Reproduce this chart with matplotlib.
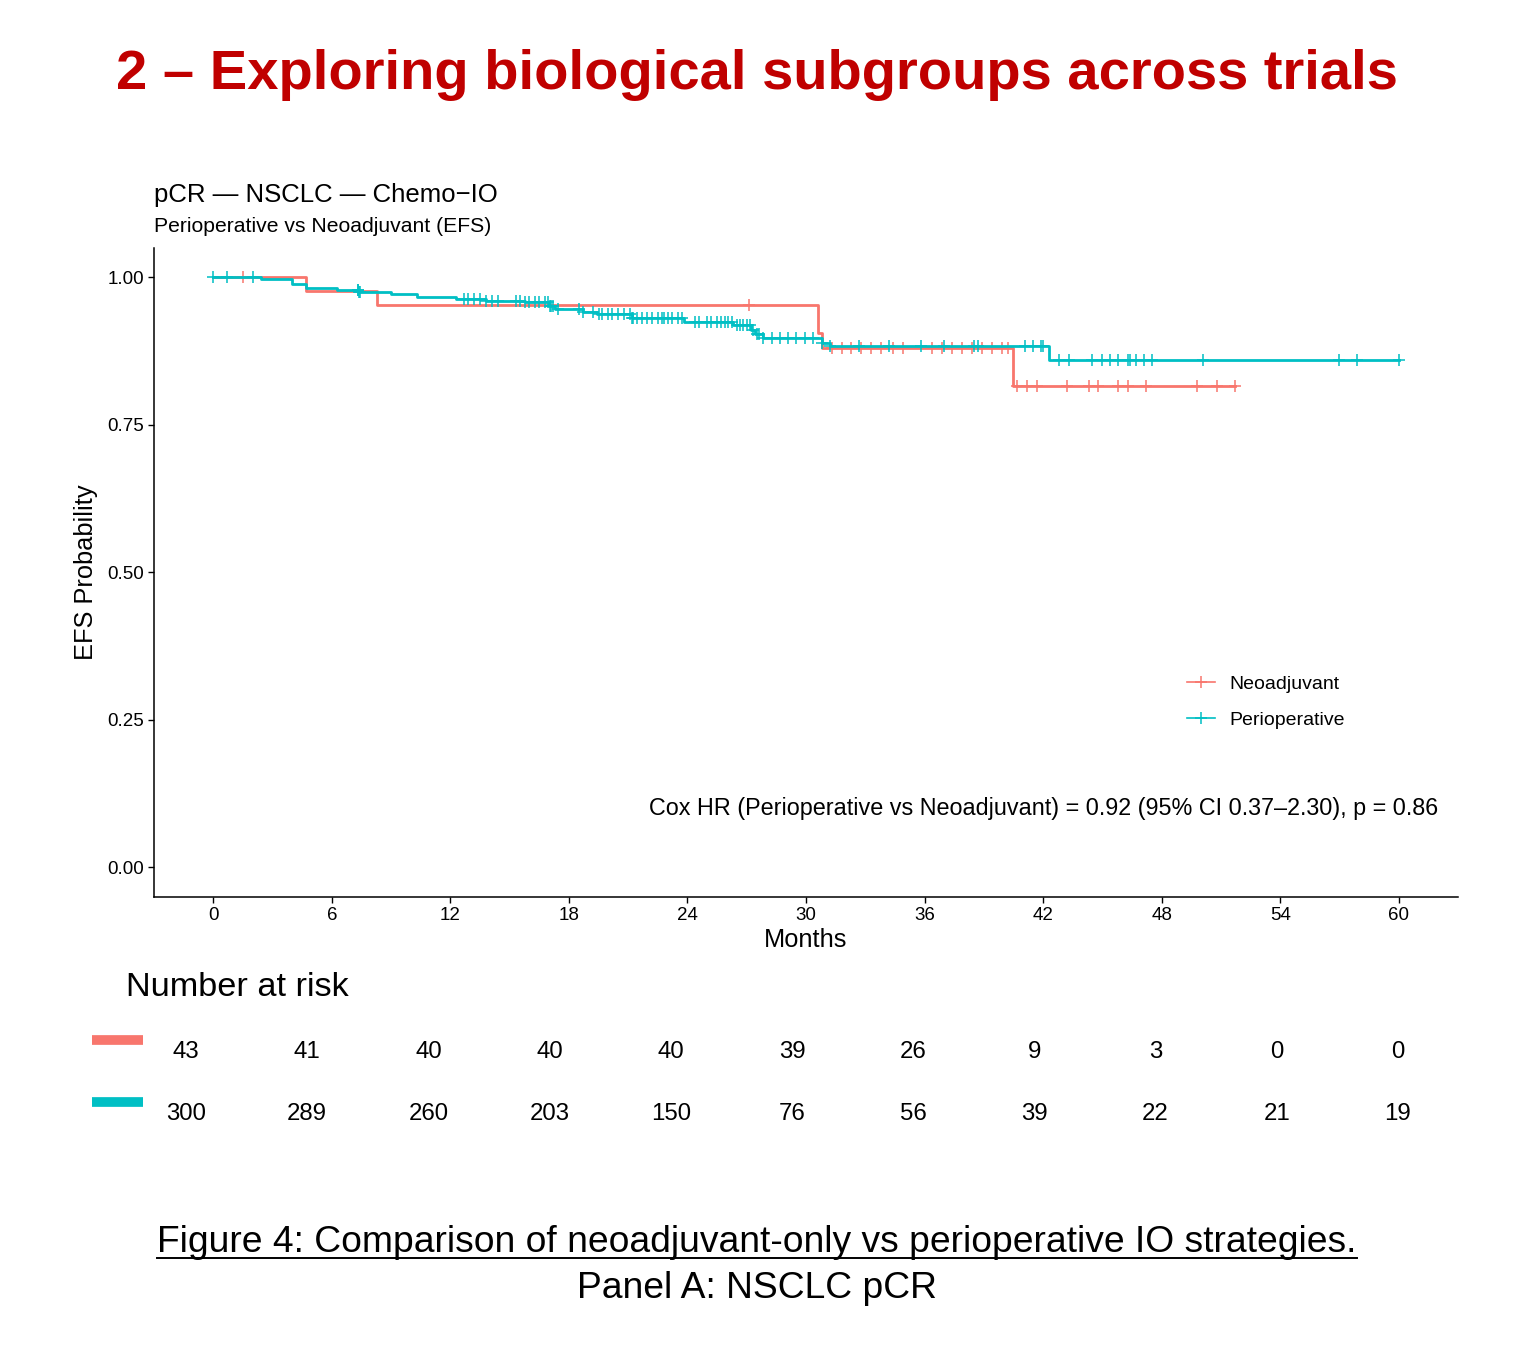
import numpy as np
import matplotlib
matplotlib.use('Agg')
import matplotlib.pyplot as plt
from matplotlib.lines import Line2D

plt.rcParams['font.family'] = ['Liberation Sans', 'DejaVu Sans']

# -----------------------------
# Data
# -----------------------------
RED = '#F8766D'
TEAL = '#00BFC4'

# Neoadjuvant KM curve (step points)
neo_time = [0, 4.7, 8.3, 30.6, 30.8, 40.5, 51.7]
neo_surv = [1.0, 0.977, 0.953, 0.906, 0.879, 0.815, 0.815]
neo_censor = [1.5, 27.1, 31.3, 31.8, 32.3, 32.8, 33.3, 33.8, 34.4, 34.9,
              36.4, 36.9, 37.4, 37.9, 38.4, 38.9, 39.4, 39.9, 40.2,
              40.7, 41.2, 41.7, 43.2, 44.3, 44.8, 45.8, 46.3, 47.2, 49.8, 50.8, 51.7]

# Perioperative KM curve
peri_time = [0, 2.4, 4.0, 4.7, 6.25, 7.4, 9.0, 10.3, 12.3, 13.8, 15.8, 17.0, 17.3,
             18.7, 19.4, 21.2, 23.8, 26.3, 27.2, 27.4, 27.8, 30.8, 31.2, 42.3, 60]
peri_surv = [1.0, 0.997, 0.989, 0.981, 0.978, 0.974, 0.971, 0.967, 0.963, 0.960, 0.957,
             0.951, 0.946, 0.941, 0.937, 0.930, 0.924, 0.918, 0.911, 0.904, 0.896,
             0.889, 0.884, 0.859, 0.859]
peri_censor = [0, 0.7, 2.0, 7.3, 7.35, 7.4, 7.45,
               12.7, 12.9, 13.2, 13.5, 13.8, 14.1, 14.4,
               15.3, 15.5, 15.8, 16.0, 16.3, 16.5, 16.8, 16.95, 17.05, 17.1, 17.2, 17.45,
               18.5, 18.7, 19.2, 19.5, 19.7, 20.0, 20.2, 20.5, 20.8,
               21.1, 21.2, 21.25, 21.45, 21.7, 21.95, 22.2, 22.5, 22.7, 22.8, 23.0, 23.2, 23.5, 23.7,
               24.4, 24.6, 25.0, 25.2, 25.5, 25.7, 25.9, 26.05, 26.25,
               26.5, 26.65, 26.8, 27.0, 27.15, 27.3, 27.5, 27.6, 27.8,
               28.3, 28.7, 29.1, 29.5, 29.95, 30.35, 30.8,
               31.2, 32.7, 34.2, 35.8, 37.0, 38.5, 38.7, 41.1, 41.5, 41.9, 42.0,
               42.8, 43.3, 44.5, 45.0, 45.4, 45.8, 46.3, 46.4, 46.7, 47.1, 47.5, 50.1,
               57.0, 57.9, 60.0]

risk_times = [0, 6, 12, 18, 24, 30, 36, 42, 48, 54, 60]
neo_risk = [43, 41, 40, 40, 40, 39, 26, 9, 3, 0, 0]
peri_risk = [300, 289, 260, 203, 150, 76, 56, 39, 22, 21, 19]

x_ticks = [0, 6, 12, 18, 24, 30, 36, 42, 48, 54, 60]
y_ticks = [0.0, 0.25, 0.5, 0.75, 1.0]


def surv_at(times, surv, t):
    idx = np.searchsorted(times, t, side='right') - 1
    return np.array(surv)[idx]


W, H = 1528, 1348
fig = plt.figure(figsize=(W / 100, H / 100), dpi=100)


def px_box(x0, y0, x1, y1):
    # pixel box (top-left origin) -> figure fraction rect
    return [x0 / W, 1 - y1 / H, (x1 - x0) / W, (y1 - y0) / H]


# -----------------------------
# Main KM axes
# -----------------------------
ax = fig.add_axes(px_box(154, 247.5, 1458, 897))
for t, s, c, col, lab in [(neo_time, neo_surv, neo_censor, RED, 'Neoadjuvant'),
                          (peri_time, peri_surv, peri_censor, TEAL, 'Perioperative')]:
    ax.step(t, s, where='post', color=col, lw=2.0)
    ax.plot(c, surv_at(t, s, c), ls='none', marker='+', ms=9, mew=1.1, color=col)

ax.set_xlim(-3, 63)
ax.set_ylim(-0.05, 1.05)
ax.set_xticks(x_ticks)
ax.set_yticks(y_ticks)
ax.set_yticklabels([f'{v:.2f}' for v in y_ticks])
ax.tick_params(labelsize=13.5, length=4, width=1, color='black', pad=3)
for side in ['top', 'right']:
    ax.spines[side].set_visible(False)
for side in ['left', 'bottom']:
    ax.spines[side].set_linewidth(1.1)
ax.set_xlabel('Months', fontsize=18.3, labelpad=3)
ax.set_ylabel('EFS Probability', fontsize=18.3, labelpad=7)

handles = [Line2D([], [], color=RED, marker='+', ms=9, mew=1.1, lw=1.2),
           Line2D([], [], color=TEAL, marker='+', ms=9, mew=1.1, lw=1.2)]
leg = ax.legend(handles, ['Neoadjuvant', 'Perioperative'], loc='center left',
                bbox_to_anchor=((1179 - 154) / (1458 - 154), (897 - 702) / (897 - 247.5)),
                frameon=False, fontsize=14, handlelength=1.45, handletextpad=0.72,
                labelspacing=0.92, borderaxespad=0)

ax.text(0.985, (897 - 808) / (897 - 247.5),
        'Cox HR (Perioperative vs Neoadjuvant) = 0.92 (95% CI 0.37\u20132.30), p = 0.86',
        transform=ax.transAxes, ha='right', va='center', fontsize=16.8)

# titles above plot
fig.text(154 / W, 1 - 195 / H, 'pCR \u2014 NSCLC \u2014 Chemo\u2212IO', fontsize=18.5,
         ha='left', va='center')
fig.text(154 / W, 1 - 226 / H, 'Perioperative vs Neoadjuvant (EFS)', fontsize=15.2,
         ha='left', va='center')

# slide title
fig.text(757 / W, 1 - 75 / H, '2 \u2013 Exploring biological subgroups across trials',
         fontsize=40.4, fontweight='bold', color='#C00000', ha='center', va='center')

# -----------------------------
# Number at risk table
# -----------------------------
fig.text(126 / W, 1 - 988 / H, 'Number at risk', fontsize=24.7, ha='left', va='center')
rax = fig.add_axes(px_box(186, 1021, 1398, 1145))
rax.set_xlim(0, 60)
rax.set_ylim(-0.5, 1.5)
rax.axis('off')
for row, vals, col in [(1, neo_risk, RED), (0, peri_risk, TEAL)]:
    for t, v in zip(risk_times, vals):
        rax.text(t, row, str(v), ha='center', va='center', fontsize=17.3)
    rax.plot([-4.65, -2.13], [row + 0.19, row + 0.19], color=col, lw=7,
             solid_capstyle='butt', clip_on=False)

# -----------------------------
# Caption
# -----------------------------
cap = fig.text(757 / W, 1 - 1243 / H,
               'Figure 4: Comparison of neoadjuvant-only vs perioperative IO strategies.',
               fontsize=26.8, ha='center', va='center')
fig.text(757 / W, 1 - 1288 / H, 'Panel A: NSCLC pCR', fontsize=26.8, ha='center', va='center')

fig.canvas.draw()
bb = cap.get_window_extent(renderer=fig.canvas.get_renderer())
uy = (bb.y0 + 3) / H
fig.add_artist(Line2D([bb.x0 / W, bb.x1 / W], [uy, uy], color='black', lw=1.4,
                      transform=fig.transFigure))

fig.savefig('out.png', dpi=100)
